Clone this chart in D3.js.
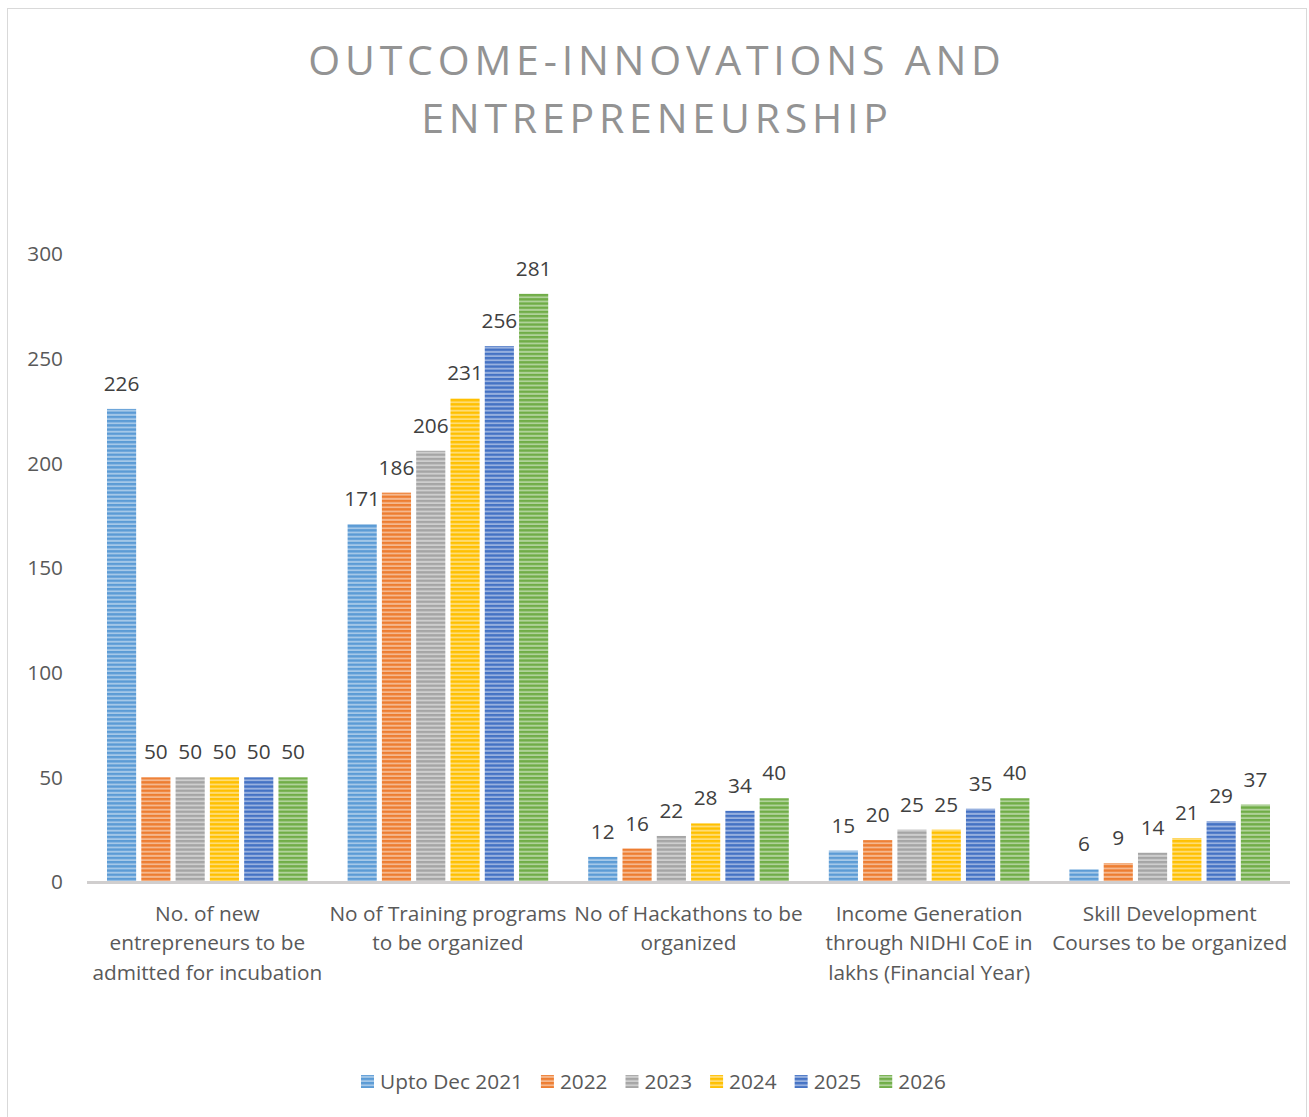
<!DOCTYPE html>
<html>
<head>
<meta charset="utf-8">
<script src="https://cdn.jsdelivr.net/npm/d3@7"></script>
<style>
  html, body { margin: 0; padding: 0; background: #fff; }
  svg { display: block; }
</style>
</head>
<body>
<svg id="chart" width="1309" height="1117"></svg>
<script>
// Categories (x axis), one label line per array entry
const categories = [
  ["No. of new", "entrepreneurs to be", "admitted for incubation"],
  ["No of Training programs", "to be organized"],
  ["No of Hackathons to be", "organized"],
  ["Income Generation", "through NIDHI CoE in", "lakhs (Financial Year)"],
  ["Skill Development", "Courses to be organized"]
];
const seriesNames = ["Upto Dec 2021", "2022", "2023", "2024", "2025", "2026"];
const seriesColors = ["#5b9bd5", "#ed7d31", "#a5a5a5", "#ffc000", "#4472c4", "#70ad47"];

// One value per category for each series
const upto2021 = [226, 171, 12, 15, 6];
const y2022 = [50, 186, 16, 20, 9];
const y2023 = [50, 206, 22, 25, 14];
const y2024 = [50, 231, 28, 25, 21];
const y2025 = [50, 256, 34, 35, 29];
const y2026 = [50, 281, 40, 40, 37];
const seriesValues = [upto2021, y2022, y2023, y2024, y2025, y2026];

const yTicks = [0, 50, 100, 150, 200, 250, 300];
const chartTitle = ["OUTCOME-INNOVATIONS AND", "ENTREPRENEURSHIP"];

const svg = d3.select("#chart");
const font = "'Open Sans', sans-serif";
const fs = 20.8;

// Outer chart frame
svg.append("rect")
  .attr("x", 7.5).attr("y", 8.5).attr("width", 1299).attr("height", 1120)
  .attr("fill", "#fff").attr("stroke", "#d9d9d9").attr("stroke-width", 1);

// Striped fills
const defs = svg.append("defs");
seriesColors.forEach((c, i) => {
  const p = defs.append("pattern")
    .attr("id", "stripe" + i)
    .attr("patternUnits", "userSpaceOnUse")
    .attr("width", 8).attr("height", 4.2);
  p.append("rect").attr("width", 8).attr("height", 4.2)
    .attr("fill", d3.interpolateRgb(c, "#fff")(0.45));
  p.append("rect").attr("y", 0).attr("width", 8).attr("height", 2.3).attr("fill", c);
});

const plot = { left: 87, right: 1290, top: 254, bottom: 882 };

const x0 = d3.scaleBand()
  .domain(d3.range(categories.length))
  .range([plot.left, plot.right])
  .paddingInner(0).paddingOuter(0);

const x1 = d3.scaleBand()
  .domain(d3.range(seriesNames.length))
  .range([20, x0.bandwidth() - 20])
  .paddingInner(0.15).paddingOuter(0);

const y = d3.scaleLinear().domain([0, 300]).range([plot.bottom, plot.top]);

// Y axis labels
svg.append("g").selectAll("text")
  .data(yTicks).join("text")
  .attr("x", 63).attr("y", d => y(d))
  .attr("dy", "0.35em")
  .attr("text-anchor", "end")
  .attr("font-family", font).attr("font-size", fs)
  .attr("fill", "#595959")
  .text(d => d);

// Bars
const groups = svg.append("g").selectAll("g")
  .data(categories.map((c, ci) => ci)).join("g")
  .attr("transform", ci => `translate(${x0(ci)},0)`);

groups.selectAll("rect")
  .data(ci => seriesValues.map((vals, si) => ({ si, v: vals[ci] })))
  .join("rect")
  .attr("x", d => x1(d.si))
  .attr("y", d => y(d.v))
  .attr("width", x1.bandwidth())
  .attr("height", d => y(0) - y(d.v))
  .attr("fill", d => `url(#stripe${d.si})`);

// Value labels
groups.selectAll("text.val")
  .data(ci => seriesValues.map((vals, si) => ({ si, v: vals[ci] })))
  .join("text")
  .attr("class", "val")
  .attr("x", d => x1(d.si) + x1.bandwidth() / 2)
  .attr("y", d => y(d.v) - 18)
  .attr("text-anchor", "middle")
  .attr("font-family", font).attr("font-size", fs)
  .attr("fill", "#404040")
  .text(d => d.v);

// X axis line
svg.append("line")
  .attr("x1", plot.left).attr("x2", plot.right)
  .attr("y1", y(0) + 0.5).attr("y2", y(0) + 0.5)
  .attr("stroke", "#d0cece").attr("stroke-width", 3);

// Category labels
const catG = svg.append("g").selectAll("text")
  .data(categories).join("text")
  .attr("x", (d, i) => x0(i) + x0.bandwidth() / 2)
  .attr("y", 921)
  .attr("text-anchor", "middle")
  .attr("font-family", font).attr("font-size", fs)
  .attr("fill", "#595959");
catG.selectAll("tspan")
  .data(d => d).join("tspan")
  .attr("x", function () { return this.parentNode.getAttribute("x"); })
  .attr("dy", (d, i) => i === 0 ? 0 : 29.3)
  .text(d => d);

// Title
svg.append("g").selectAll("text")
  .data(chartTitle).join("text")
  .attr("x", 657)
  .attr("y", (d, i) => 75 + i * 58)
  .attr("text-anchor", "middle")
  .attr("font-family", font).attr("font-size", 41).attr("font-weight", 400)
  .attr("letter-spacing", 4.8)
  .attr("fill", "#939393")
  .text(d => d);

// Legend
const legendItems = seriesNames.map((n, i) => ({ n, i }));
const legend = svg.append("g").attr("transform", "translate(0,1082)");
let lx = 361;
legendItems.forEach(d => {
  const g = legend.append("g").attr("transform", `translate(${lx},0)`);
  g.append("rect").attr("x", 0).attr("y", -7).attr("width", 13).attr("height", 13)
    .attr("fill", `url(#stripe${d.i})`);
  const t = g.append("text").attr("x", 19).attr("y", 0).attr("dy", "0.35em")
    .attr("font-family", font).attr("font-size", fs).attr("fill", "#595959")
    .text(d.n);
  lx += 19 + t.node().getComputedTextLength() + 18;
});
</script>
</body>
</html>
